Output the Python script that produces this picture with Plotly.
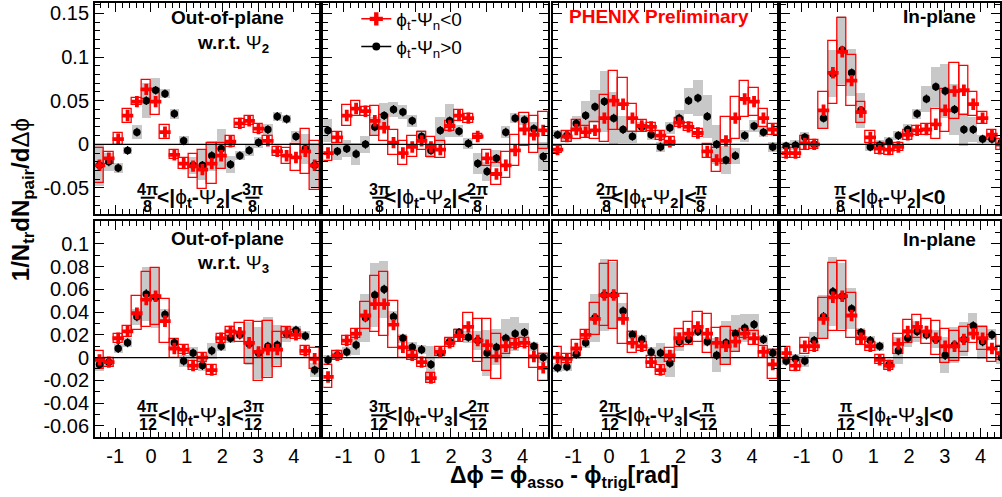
import numpy as np
import plotly.graph_objects as go

# ---------------- data ----------------
# 24 bins in delta-phi over [-pi/2, 3pi/2]
n_bins = 24
bin_edges = np.linspace(-np.pi / 2, 3 * np.pi / 2, n_bins + 1)
dphi = 0.5 * (bin_edges[:-1] + bin_edges[1:])

# top row: w.r.t. Psi_2 ; bottom row: w.r.t. Psi_3
# "red" = phi_t - Psi_n < 0 ; "blk" = phi_t - Psi_n > 0 ; *_sys = systematic half-heights
t1_red = [-0.024, -0.016, 0.006, 0.033, 0.049, 0.063, 0.049, 0.014, -0.012, -0.022, -0.025, -0.029,
          -0.022, -0.013, 0.003, 0.024, 0.027, 0.018, 0.004, -0.008, -0.013, -0.015, -0.008, -0.024]
t1_red_sys = [0.020, 0.007, 0.007, 0.008, 0.004, 0.011, 0.015, 0.008, 0.005, 0.006, 0.014, 0.022,
              0.023, 0.015, 0.006, 0.005, 0.005, 0.005, 0.005, 0.005, 0.009, 0.015, 0.026, 0.028]
t1_blk = [-0.024, -0.020, -0.027, -0.007, 0.014, 0.050, 0.062, 0.058, 0.035, 0.004, -0.024, -0.024,
          -0.013, -0.005, -0.023, -0.013, -0.007, 0.002, 0.017, 0.032, 0.029, 0.009, -0.005, -0.024]
t1_blk_sys = [0.024, 0.010, 0.006, 0.004, 0.008, 0.020, 0.014, 0.005, 0.006, 0.005, 0.010, 0.017,
              0.017, 0.023, 0.010, 0.005, 0.006, 0.006, 0.006, 0.005, 0.005, 0.006, 0.017, 0.026]

t2_red = [-0.010, 0.008, 0.033, 0.041, 0.038, 0.027, 0.019, 0.002, -0.010, -0.003, 0.004, -0.003,
          -0.006, 0.021, 0.033, 0.030, 0.009, -0.016, -0.034, -0.024, -0.007, 0.017, 0.011, 0.016]
t2_red_sys = [0.009, 0.006, 0.012, 0.009, 0.005, 0.017, 0.015, 0.014, 0.014, 0.012, 0.010, 0.011,
              0.010, 0.006, 0.006, 0.005, 0.003, 0.009, 0.013, 0.015, 0.018, 0.019, 0.021, 0.021]
t2_blk = [0.016, -0.008, -0.005, -0.011, 0.000, 0.020, 0.033, 0.040, 0.037, 0.027, 0.009, -0.007,
          0.016, 0.027, 0.015, 0.001, -0.022, -0.031, -0.016, 0.014, 0.030, 0.028, 0.018, -0.014]
t2_blk_sys = [0.013, 0.010, 0.010, 0.013, 0.010, 0.011, 0.014, 0.009, 0.008, 0.007, 0.008, 0.009,
              0.015, 0.019, 0.007, 0.006, 0.012, 0.011, 0.010, 0.007, 0.006, 0.006, 0.008, 0.017]

t3_red = [-0.006, 0.009, 0.017, 0.014, 0.016, 0.030, 0.050, 0.046, 0.030, 0.021, 0.020, 0.010,
          0.003, 0.025, 0.020, 0.013, -0.008, -0.018, 0.004, 0.030, 0.052, 0.049, 0.030, 0.017]
t3_red_sys = [0.004, 0.006, 0.011, 0.007, 0.010, 0.027, 0.034, 0.030, 0.016, 0.007, 0.005, 0.005,
              0.005, 0.005, 0.005, 0.005, 0.008, 0.014, 0.027, 0.024, 0.021, 0.016, 0.010, 0.006]
t3_blk = [0.011, 0.010, 0.024, 0.033, 0.043, 0.049, 0.030, 0.017, 0.009, 0.020, 0.011, -0.003,
          0.019, 0.030, 0.050, 0.053, 0.032, 0.000, -0.018, -0.013, 0.010, 0.021, 0.014, -0.003]
t3_blk_sys = [0.005, 0.006, 0.008, 0.017, 0.019, 0.035, 0.030, 0.016, 0.008, 0.006, 0.006, 0.006,
              0.007, 0.009, 0.015, 0.021, 0.025, 0.022, 0.016, 0.009, 0.007, 0.007, 0.006, 0.006]

t4_red = [-0.010, -0.010, 0.001, 0.000, 0.039, 0.082, 0.106, 0.073, 0.037, 0.008, -0.005, -0.006,
          -0.003, 0.011, 0.016, 0.017, 0.023, 0.039, 0.061, 0.062, 0.046, 0.030, 0.011, 0.000]
t4_red_sys = [0.006, 0.006, 0.008, 0.005, 0.021, 0.036, 0.039, 0.029, 0.012, 0.007, 0.006, 0.006,
              0.005, 0.006, 0.005, 0.006, 0.017, 0.025, 0.032, 0.028, 0.014, 0.007, 0.006, 0.006]
t4_blk = [-0.002, -0.001, 0.008, 0.000, 0.030, 0.081, 0.108, 0.082, 0.039, -0.003, -0.001, 0.003,
          0.010, 0.017, 0.035, 0.052, 0.066, 0.061, 0.040, 0.017, 0.017, 0.006, 0.006, 0.002]
t4_blk_sys = [0.005, 0.006, 0.006, 0.004, 0.011, 0.027, 0.039, 0.027, 0.020, 0.005, 0.006, 0.005,
              0.005, 0.006, 0.006, 0.015, 0.023, 0.031, 0.029, 0.019, 0.014, 0.005, 0.005, 0.005]

b1_red = [-0.002, -0.004, 0.017, 0.023, 0.039, 0.051, 0.054, 0.032, 0.008, 0.007, -0.007, 0.000,
          -0.011, 0.017, 0.023, 0.022, 0.013, 0.005, 0.007, 0.007, 0.022, 0.020, 0.006, -0.001]
b1_red_sys = [0.008, 0.004, 0.004, 0.005, 0.015, 0.024, 0.025, 0.019, 0.008, 0.004, 0.004, 0.004,
              0.004, 0.004, 0.004, 0.008, 0.019, 0.026, 0.025, 0.015, 0.005, 0.004, 0.004, 0.009]
b1_blk = [-0.006, -0.004, 0.008, 0.013, 0.036, 0.056, 0.053, 0.038, 0.013, -0.003, 0.004, -0.007,
          0.006, 0.010, 0.017, 0.020, 0.012, 0.004, 0.010, 0.011, 0.021, 0.024, 0.019, -0.011]
b1_blk_sys = [0.006, 0.004, 0.004, 0.004, 0.007, 0.024, 0.027, 0.005, 0.004, 0.005, 0.005, 0.005,
              0.007, 0.004, 0.004, 0.004, 0.019, 0.023, 0.026, 0.018, 0.007, 0.004, 0.004, 0.006]

b2_red = [-0.017, 0.002, 0.015, 0.021, 0.037, 0.047, 0.047, 0.029, 0.009, 0.002, -0.004, -0.018,
          0.005, 0.013, 0.019, 0.027, 0.015, 0.011, 0.001, 0.010, 0.012, 0.013, 0.001, -0.009]
b2_red_sys = [0.010, 0.004, 0.004, 0.004, 0.012, 0.025, 0.028, 0.021, 0.009, 0.004, 0.004, 0.004,
              0.004, 0.004, 0.005, 0.012, 0.019, 0.023, 0.020, 0.007, 0.004, 0.004, 0.010, 0.012]
b2_blk = [-0.002, 0.002, 0.005, 0.011, 0.035, 0.055, 0.060, 0.036, 0.017, 0.009, 0.007, -0.006,
          0.004, 0.014, 0.022, 0.018, 0.015, 0.004, 0.009, 0.017, 0.021, 0.022, 0.010, 0.000]
b2_blk_sys = [0.004, 0.004, 0.004, 0.009, 0.021, 0.028, 0.025, 0.005, 0.004, 0.005, 0.004, 0.016,
              0.004, 0.004, 0.004, 0.005, 0.008, 0.020, 0.016, 0.017, 0.015, 0.008, 0.004, 0.005]

b3_red = [0.000, -0.001, 0.008, 0.020, 0.034, 0.055, 0.055, 0.034, 0.013, 0.010, -0.004, -0.011,
          0.002, 0.017, 0.021, 0.027, 0.021, 0.013, 0.010, 0.014, 0.021, 0.017, 0.005, -0.006]
b3_red_sys = [0.009, 0.004, 0.007, 0.004, 0.014, 0.027, 0.030, 0.022, 0.009, 0.004, 0.005, 0.004,
              0.006, 0.008, 0.010, 0.013, 0.017, 0.013, 0.017, 0.009, 0.004, 0.006, 0.005, 0.013]
b3_blk = [-0.009, -0.008, 0.003, 0.013, 0.035, 0.055, 0.055, 0.041, 0.020, 0.016, 0.005, 0.004,
          -0.005, 0.014, 0.016, 0.023, 0.014, 0.002, 0.013, 0.021, 0.026, 0.029, 0.016, 0.004]
b3_blk_sys = [0.004, 0.004, 0.004, 0.005, 0.021, 0.032, 0.029, 0.007, 0.004, 0.004, 0.004, 0.009,
              0.012, 0.008, 0.004, 0.004, 0.004, 0.015, 0.019, 0.016, 0.012, 0.009, 0.004, 0.004]

b4_red = [0.004, -0.007, 0.010, 0.010, 0.034, 0.053, 0.054, 0.037, 0.017, 0.010, -0.002, -0.007,
          0.012, 0.023, 0.027, 0.023, 0.017, 0.010, 0.010, 0.016, 0.021, 0.017, 0.008, 0.004]
b4_red_sys = [0.005, 0.005, 0.007, 0.004, 0.018, 0.030, 0.031, 0.020, 0.006, 0.004, 0.004, 0.004,
              0.009, 0.010, 0.010, 0.011, 0.015, 0.015, 0.013, 0.011, 0.008, 0.010, 0.012, 0.006]
b4_blk = [-0.003, -0.001, -0.003, 0.015, 0.036, 0.058, 0.054, 0.043, 0.022, 0.015, 0.010, -0.006,
          0.006, 0.017, 0.023, 0.020, 0.016, 0.002, 0.011, 0.016, 0.028, 0.014, 0.020, 0.000]
b4_blk_sys = [0.004, 0.004, 0.005, 0.007, 0.019, 0.030, 0.029, 0.018, 0.004, 0.004, 0.004, 0.004,
              0.012, 0.008, 0.009, 0.004, 0.008, 0.016, 0.016, 0.015, 0.011, 0.015, 0.005, 0.006]

stat_err_top = 0.005
stat_err_bot = 0.004

x_tickvals = [-1, 0, 1, 2, 3, 4]
x_ticktext = ["-1", "0", "1", "2", "3", "4"]
y_top_tickvals = [-0.05, 0, 0.05, 0.1, 0.15]
y_top_ticktext = ["-0.05", "0", "0.05", "0.1", "0.15"]
y_bot_tickvals = [-0.06, -0.04, -0.02, 0, 0.02, 0.04, 0.06, 0.08, 0.1]
y_bot_ticktext = ["-0.06", "-0.04", "-0.02", "0", "0.02", "0.04", "0.06", "0.08", "0.1"]

legend_labels = ["ϕ<sub>t</sub>-Ψ<sub>n</sub>&lt;0", "ϕ<sub>t</sub>-Ψ<sub>n</sub>&gt;0"]

panels = [
    (t1_red, t1_red_sys, t1_blk, t1_blk_sys),
    (t2_red, t2_red_sys, t2_blk, t2_blk_sys),
    (t3_red, t3_red_sys, t3_blk, t3_blk_sys),
    (t4_red, t4_red_sys, t4_blk, t4_blk_sys),
    (b1_red, b1_red_sys, b1_blk, b1_blk_sys),
    (b2_red, b2_red_sys, b2_blk, b2_blk_sys),
    (b3_red, b3_red_sys, b3_blk, b3_blk_sys),
    (b4_red, b4_red_sys, b4_blk, b4_blk_sys),
]

# ---------------- layout geometry ----------------
W, H = 1002, 497
FONT = "Liberation Sans, Arial, Helvetica, sans-serif"
RED = "#ff0000"
GRAY = "#c8c8c8"


def px(xp):
    return xp / W


def py(yp):
    return 1 - yp / H


def ax_names(i):
    s = "" if i == 1 else str(i)
    return "x" + s, "y" + s, "xaxis" + s, "yaxis" + s


X_LEFT = [95, 324, 554, 783]
PANEL_W = 225
ROWS = [(1, 213), (220, 437)]
Y_RANGES = [[-0.08, 0.162], [-0.07, 0.12]]
XMIN = -np.pi / 2
XSPAN = 2 * np.pi
binw = np.pi / 12

fig = go.Figure()
layout = dict()

for k, (r_val, r_sys, b_val, b_sys) in enumerate(panels):
    row, col = divmod(k, 4)
    i = k + 1
    xa, ya, xkey, ykey = ax_names(i)
    r_val = np.array(r_val)
    r_sys = np.array(r_sys)
    b_val = np.array(b_val)
    b_sys = np.array(b_sys)
    stat = stat_err_top if row == 0 else stat_err_bot

    fig.add_trace(go.Bar(x=dphi, y=2 * b_sys, base=b_val - b_sys, width=binw,
                         marker=dict(color=GRAY, line=dict(width=0)),
                         xaxis=xa, yaxis=ya, showlegend=False, hoverinfo="skip"))
    fig.add_trace(go.Bar(x=dphi, y=2 * r_sys, base=r_val - r_sys, width=binw,
                         marker=dict(color="rgba(0,0,0,0)", line=dict(color=RED, width=1.3)),
                         xaxis=xa, yaxis=ya, showlegend=False, hoverinfo="skip"))
    fig.add_trace(go.Scatter(x=dphi, y=b_val, mode="markers",
                             marker=dict(symbol="circle", size=7.5, color="black"),
                             error_y=dict(type="constant", value=stat, color="black",
                                          thickness=1.3, width=0),
                             xaxis=xa, yaxis=ya, showlegend=False, hoverinfo="skip"))
    fig.add_trace(go.Scatter(x=dphi, y=r_val, mode="markers",
                             marker=dict(symbol="cross", size=9.5, color=RED,
                                         line=dict(width=0)),
                             error_y=dict(type="constant", value=stat, color=RED,
                                          thickness=1.3, width=0),
                             xaxis=xa, yaxis=ya, showlegend=False, hoverinfo="skip"))

    x0 = X_LEFT[col]
    x1 = min(x0 + PANEL_W, W)
    xr = [XMIN, XMIN + XSPAN * (x1 - x0) / PANEL_W]
    top, bot = ROWS[row]
    axis_common = dict(showline=True, linecolor="black", linewidth=1.5,
                       mirror="allticks", ticks="inside", tickcolor="black",
                       tickwidth=1.2, showgrid=False, zeroline=False,
                       tickfont=dict(family=FONT, size=20, color="black"),
                       fixedrange=True)
    layout[xkey] = dict(axis_common, domain=[px(x0), px(x1)], range=xr,
                        anchor=ya, tickmode="array", tickvals=x_tickvals,
                        ticktext=x_ticktext, ticklen=9,
                        minor=dict(ticks="inside", dtick=0.2, tick0=0,
                                   ticklen=5, tickcolor="black", tickwidth=1),
                        showticklabels=(row == 1))
    if row == 0:
        tv, tt = y_top_tickvals, y_top_ticktext
    else:
        tv, tt = y_bot_tickvals, y_bot_ticktext
    layout[ykey] = dict(axis_common, domain=[py(bot), py(top)], range=Y_RANGES[row],
                        anchor=xa, tickmode="array", tickvals=tv, ticktext=tt,
                        ticklen=9,
                        minor=dict(ticks="inside", dtick=0.01, tick0=0,
                                   ticklen=5, tickcolor="black", tickwidth=1),
                        showticklabels=(col == 0))

# legend entries (drawn by plotly's legend)
fig.add_trace(go.Scatter(x=[None], y=[None], mode="lines+markers", name=legend_labels[0],
                         line=dict(color=RED, width=1.5),
                         marker=dict(symbol="cross", size=11, color=RED),
                         xaxis="x2", yaxis="y2"))
fig.add_trace(go.Scatter(x=[None], y=[None], mode="lines+markers", name=legend_labels[1],
                         line=dict(color="black", width=1.5),
                         marker=dict(symbol="circle", size=8, color="black"),
                         xaxis="x2", yaxis="y2"))

shapes = []
for k in range(8):
    xa, ya, _, _ = ax_names(k + 1)
    shapes.append(dict(type="line", xref=f"{xa} domain", yref=ya, x0=0, x1=1,
                       y0=0, y1=0, line=dict(color="black", width=1.3)))

annotations = []


def ann(text, xp, yp, size, color="black", xanchor="center", yanchor="middle", angle=0):
    annotations.append(dict(text=text, x=px(xp), y=py(yp), xref="paper", yref="paper",
                            showarrow=False, xanchor=xanchor, yanchor=yanchor,
                            textangle=angle,
                            font=dict(family=FONT, size=size, color=color)))


def frac(xc, ynum, ybar, yden, num, den, barw, size=16):
    ann(f"<b>{num}</b>", xc, ynum, size)
    ann(f"<b>{den}</b>", xc, yden, size)
    shapes.append(dict(type="line", xref="paper", yref="paper",
                       x0=px(xc - barw / 2), x1=px(xc + barw / 2),
                       y0=py(ybar), y1=py(ybar), line=dict(color="black", width=2)))


# panel headers
ann("<b>Out-of-plane</b>", 228, 16, 19)
ann("<b>w.r.t.</b> Ψ<sub><b>2</b></sub>", 233, 42, 19)
ann("<b>PHENIX Preliminary</b>", 660, 15, 19, color=RED)
ann("<b>In-plane</b>", 941, 15, 19)
ann("<b>Out-of-plane</b>", 228, 237, 19)
ann("<b>w.r.t.</b> Ψ<sub><b>3</b></sub>", 233, 263, 19)
ann("<b>In-plane</b>", 941, 238, 19)

# fraction labels, top row (Psi_2)
mid2 = "<b>&lt;|</b>ϕ<sub><b>t</b></sub><b>-</b>Ψ<sub><b>2</b></sub><b>|&lt;</b>"
mid3 = "<b>&lt;|</b>ϕ<sub><b>t</b></sub><b>-</b>Ψ<sub><b>3</b></sub><b>|&lt;</b>"
TN, TB, TD, TM = 188, 196.5, 205, 197
frac(148, TN, TB, TD, "4π", "8", 14)
ann(mid2, 200, TM, 21)
frac(253, TN, TB, TD, "3π", "8", 14)
frac(380, TN, TB, TD, "3π", "8", 14)
ann(mid2, 428, TM, 21)
frac(478, TN, TB, TD, "2π", "8", 14)
frac(608, TN, TB, TD, "2π", "8", 14)
ann(mid2, 655, TM, 21)
frac(702, TN, TB, TD, "π", "8", 10)
frac(842, TN, TB, TD, "π", "8", 10)
ann(mid2 + "<b>0</b>", 898, TM, 21)

# fraction labels, bottom row (Psi_3)
BN, BB, BD, BM = 406, 415, 424, 416
frac(148, BN, BB, BD, "4π", "12", 16)
ann(mid3, 201, BM, 21)
frac(254, BN, BB, BD, "3π", "12", 16)
frac(380, BN, BB, BD, "3π", "12", 16)
ann(mid3, 429, BM, 21)
frac(479, BN, BB, BD, "2π", "12", 16)
frac(611, BN, BB, BD, "2π", "12", 16)
ann(mid3, 659, BM, 21)
frac(709, BN, BB, BD, "π", "12", 16)
frac(848, BN, BB, BD, "π", "12", 16)
ann(mid3 + "<b>0</b>", 906, BM, 21)

# axis titles
ann("<b>1/N<sub>tr</sub>dN<sub>pair</sub>/d</b>Δϕ", 22, 198, 24, angle=-90)
ann("<b>Δϕ = ϕ<sub>asso</sub> - ϕ<sub>trig</sub>[rad]</b>", 566, 476, 23)

fig.update_layout(
    width=W, height=H,
    margin=dict(l=0, r=0, t=0, b=0),
    paper_bgcolor="white", plot_bgcolor="white",
    barmode="overlay", bargap=0,
    font=dict(family=FONT, color="black"),
    showlegend=True,
    legend=dict(x=px(357), y=py(-2), xanchor="left", yanchor="top",
                bgcolor="rgba(0,0,0,0)", borderwidth=0,
                font=dict(family=FONT, size=19, color="black"),
                tracegroupgap=0),
    shapes=shapes, annotations=annotations,
    **layout,
)

fig.write_html("out.html", config={"displayModeBar": False},
               post_script="document.body.style.margin='0';"
                           "document.body.style.overflow='hidden';")
